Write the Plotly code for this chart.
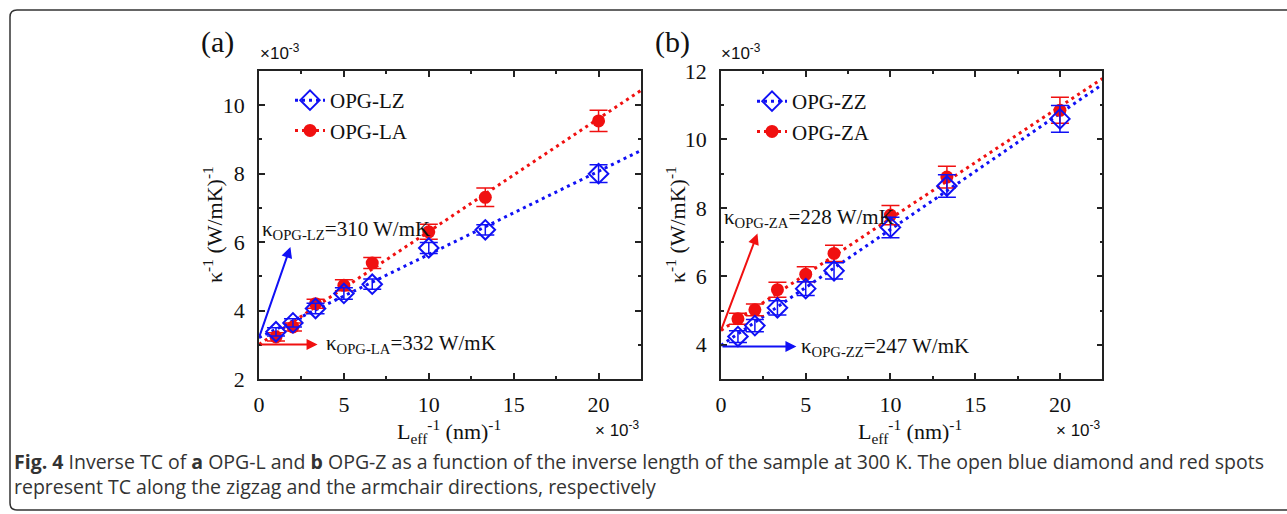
import plotly.graph_objects as go

W, H = 1287, 514

# ---------------- data ----------------
x_len = [1, 2, 3.33, 5, 6.67, 10, 13.33, 20]

# panel (a)
lz_y = [3.38, 3.64, 4.06, 4.50, 4.77, 5.83, 6.36, 8.00]
lz_err = [0.12, 0.12, 0.15, 0.17, 0.15, 0.16, 0.15, 0.26]
la_y = [3.23, 3.52, 4.20, 4.74, 5.39, 6.30, 7.31, 9.54]
la_err = [0.12, 0.12, 0.13, 0.16, 0.16, 0.22, 0.27, 0.31]

# panel (b)
zz_y = [4.24, 4.56, 5.08, 5.64, 6.16, 7.43, 8.64, 10.60]
zz_err = [0.17, 0.18, 0.21, 0.20, 0.24, 0.30, 0.33, 0.39]
za_y = [4.76, 5.02, 5.61, 6.06, 6.67, 7.79, 8.90, 10.85]
za_err = [0.16, 0.17, 0.22, 0.22, 0.24, 0.28, 0.32, 0.38]

# linear fits: intercept, slope
fit_x = [0, 22.5]
fit_lz = (3.21, 0.243)
fit_la = (3.01, 0.330)
fit_zz = (3.98, 0.339)
fit_za = (4.42, 0.327)

x_ticks = [0, 5, 10, 15, 20]
ya_ticks = [2, 4, 6, 8, 10]
yb_ticks = [4, 6, 8, 10, 12]

BLUE = "#1010f5"
RED = "#f01010"
SERIF = "Liberation Serif"


def px(x):
    return x / W


def py(y):
    return 1 - y / H


def line_y(fit):
    return [fit[0] + fit[1] * xv for xv in fit_x]


fig = go.Figure()


def add_panel(xa, ya, leg, blue_y, blue_err, red_y, red_err, fit_b, fit_r, bname, rname):
    fig.add_trace(go.Scatter(x=fit_x, y=line_y(fit_b), mode="lines", xaxis=xa, yaxis=ya,
                             line=dict(color=BLUE, width=3, dash="3px,4px"), showlegend=False))
    fig.add_trace(go.Scatter(x=fit_x, y=line_y(fit_r), mode="lines", xaxis=xa, yaxis=ya,
                             line=dict(color=RED, width=3, dash="3px,4px"), showlegend=False))
    fig.add_trace(go.Scatter(x=x_len, y=red_y, mode="markers", xaxis=xa, yaxis=ya,
                             marker=dict(symbol="circle", size=13, color=RED),
                             error_y=dict(type="data", array=red_err, color=RED, thickness=1.5, width=9),
                             showlegend=False))
    fig.add_trace(go.Scatter(x=x_len, y=blue_y, mode="markers", xaxis=xa, yaxis=ya,
                             marker=dict(symbol="diamond-open", size=15, color=BLUE, line=dict(width=2)),
                             error_y=dict(type="data", array=blue_err, color=BLUE, thickness=1.5, width=9),
                             showlegend=False))
    fig.add_trace(go.Scatter(x=[None], y=[None], mode="lines+markers", name=bname, legend=leg,
                             xaxis=xa, yaxis=ya,
                             line=dict(color=BLUE, width=3, dash="3px,4px"),
                             marker=dict(symbol="diamond-open", size=15, color=BLUE, line=dict(width=2))))
    fig.add_trace(go.Scatter(x=[None], y=[None], mode="lines+markers", name=rname, legend=leg,
                             xaxis=xa, yaxis=ya,
                             line=dict(color=RED, width=3, dash="3px,4px"),
                             marker=dict(symbol="circle", size=13, color=RED)))


add_panel("x", "y", "legend", lz_y, lz_err, la_y, la_err, fit_lz, fit_la, "OPG-LZ", "OPG-LA")
add_panel("x2", "y2", "legend2", zz_y, zz_err, za_y, za_err, fit_zz, fit_za, "OPG-ZZ", "OPG-ZA")

axis_common = dict(
    showline=True, linecolor="#222", linewidth=1.5, mirror="ticks",
    ticks="inside", ticklen=6, tickwidth=1.5, tickcolor="#222",
    showgrid=False, zeroline=False, automargin=False,
    tickfont=dict(family=SERIF, size=22, color="#111"),
    minor=dict(ticks="inside", ticklen=3, tickwidth=1.5, tickcolor="#222", showgrid=False),
)

dom_a = [px(259), px(641)]
dom_b = [px(721), px(1102.3)]
dom_y = [py(379), py(71)]

fig.update_layout(
    width=W, height=H, autosize=False, margin=dict(l=0, r=0, t=0, b=0, pad=0, autoexpand=False),
    paper_bgcolor="white", plot_bgcolor="white",
    xaxis=dict(domain=dom_a, range=[0, 22.5], tickvals=x_ticks, ticktext=[str(v) for v in x_ticks],
               minor_dtick=2.5, minor_tick0=0, ticklabelstandoff=5, anchor="y", **axis_common),
    yaxis=dict(domain=dom_y, range=[2, 11], tickvals=ya_ticks, ticktext=[str(v) for v in ya_ticks],
               minor_dtick=1, minor_tick0=0, ticklabelstandoff=8, anchor="x", **axis_common),
    xaxis2=dict(domain=dom_b, range=[0, 22.5], tickvals=x_ticks, ticktext=[str(v) for v in x_ticks],
                minor_dtick=2.5, minor_tick0=0, ticklabelstandoff=5, anchor="y2", **axis_common),
    yaxis2=dict(domain=dom_y, range=[3, 12], tickvals=yb_ticks, ticktext=[str(v) for v in yb_ticks],
                minor_dtick=1, minor_tick0=0, ticklabelstandoff=8, anchor="x2", **axis_common),
    legend=dict(x=px(290), y=py(80), xanchor="left", yanchor="top", bgcolor="rgba(0,0,0,0)",
                font=dict(family=SERIF, size=21, color="#111"), tracegroupgap=0),
    legend2=dict(x=px(752), y=py(81), xanchor="left", yanchor="top", bgcolor="rgba(0,0,0,0)",
                 font=dict(family=SERIF, size=21, color="#111"), tracegroupgap=0),
    showlegend=True,
)

anns = []


def ann(x, y, text, size=20, family=SERIF, xanchor="center", yanchor="middle", angle=0, color="#111",
        xref="paper", yref="paper", align="center"):
    anns.append(dict(x=x, y=y, xref=xref, yref=yref, text=text, showarrow=False, xanchor=xanchor,
                     yanchor=yanchor, textangle=angle, align=align,
                     font=dict(family=family, size=size, color=color)))


# panel labels
ann(px(217), py(42), "(a)", size=30)
ann(px(672), py(42), "(b)", size=30)
# x10^-3 labels
ann(px(258), py(52), "×10<sup>-3</sup>", size=17, family="Liberation Sans", xanchor="left")
ann(px(719), py(52), "×10<sup>-3</sup>", size=17, family="Liberation Sans", xanchor="left")
ann(px(642), py(429), "× 10<sup>-3</sup>", size=17, family="Liberation Sans", xanchor="right")
ann(px(1103), py(429), "× 10<sup>-3</sup>", size=17, family="Liberation Sans", xanchor="right")
# y titles
ann(px(213), py(225), "κ<sup>-1</sup> (W/mK)<sup>-1</sup>", size=22, angle=-90)
ann(px(676), py(225), "κ<sup>-1</sup> (W/mK)<sup>-1</sup>", size=22, angle=-90)
# x titles
for cx in (449, 910):
    ann(px(cx), py(431), "L<sub>eff</sub><sup>-1</sup> (nm)<sup>-1</sup>", size=22)

# kappa labels (data coords)
ann(0.05, 6.34, "κ<sub>OPG-LZ</sub>=310 W/mK", size=21, xanchor="left", xref="x", yref="y")
ann(3.8, 3.02, "κ<sub>OPG-LA</sub>=332 W/mK", size=21, xanchor="left", xref="x", yref="y")
ann(0.05, 7.70, "κ<sub>OPG-ZA</sub>=228 W/mK", size=21, xanchor="left", xref="x2", yref="y2")
ann(4.6, 3.93, "κ<sub>OPG-ZZ</sub>=247 W/mK", size=21, xanchor="left", xref="x2", yref="y2")

# arrows
arrows = [
    ("x", "y", 0, fit_lz[0], 1.85, 5.86, BLUE),
    ("x", "y", 0, fit_la[0], 3.45, fit_la[0], RED),
    ("x2", "y2", 0, fit_za[0], 2.15, 7.25, RED),
    ("x2", "y2", 0, 3.95, 4.45, 3.95, BLUE),
]
for xa, ya, x0, y0, x1, y1, col in arrows:
    anns.append(dict(x=x1, y=y1, ax=x0, ay=y0, xref=xa, yref=ya, axref=xa, ayref=ya, text="",
                     showarrow=True, arrowhead=2, arrowsize=1.1, arrowwidth=2, arrowcolor=col))

# caption
caption = ("<b>Fig. 4</b> Inverse TC of <b>a</b> OPG-L and <b>b</b> OPG-Z as a function of the inverse length "
           "of the sample at 300 K. The open blue diamond and red spots<br>"
           "represent TC along the zigzag and the armchair directions, respectively")
ann(px(12), py(474), caption, size=19.5, family="Open Sans", xanchor="left", color="#333", align="left")

fig.update_layout(annotations=anns)

# outer border (rounded left corners, open to the right edge)
x0, x1 = px(10), px(1300)
y0, y1 = py(510), py(10)
rx, ry = 7 / W, 7 / H
path = (f"M {x1},{y1} L {x0+rx},{y1} Q {x0},{y1} {x0},{y1-ry} L {x0},{y0+ry} Q {x0},{y0} {x0+rx},{y0} "
        f"L {x1},{y0}")
fig.add_shape(type="path", path=path, xref="paper", yref="paper", line=dict(color="#333333", width=1.5))

fig.write_html(
    "out.html",
    config={"responsive": False, "displayModeBar": False},
    post_script="document.body.style.margin='0px';document.body.style.overflow='hidden';",
)
